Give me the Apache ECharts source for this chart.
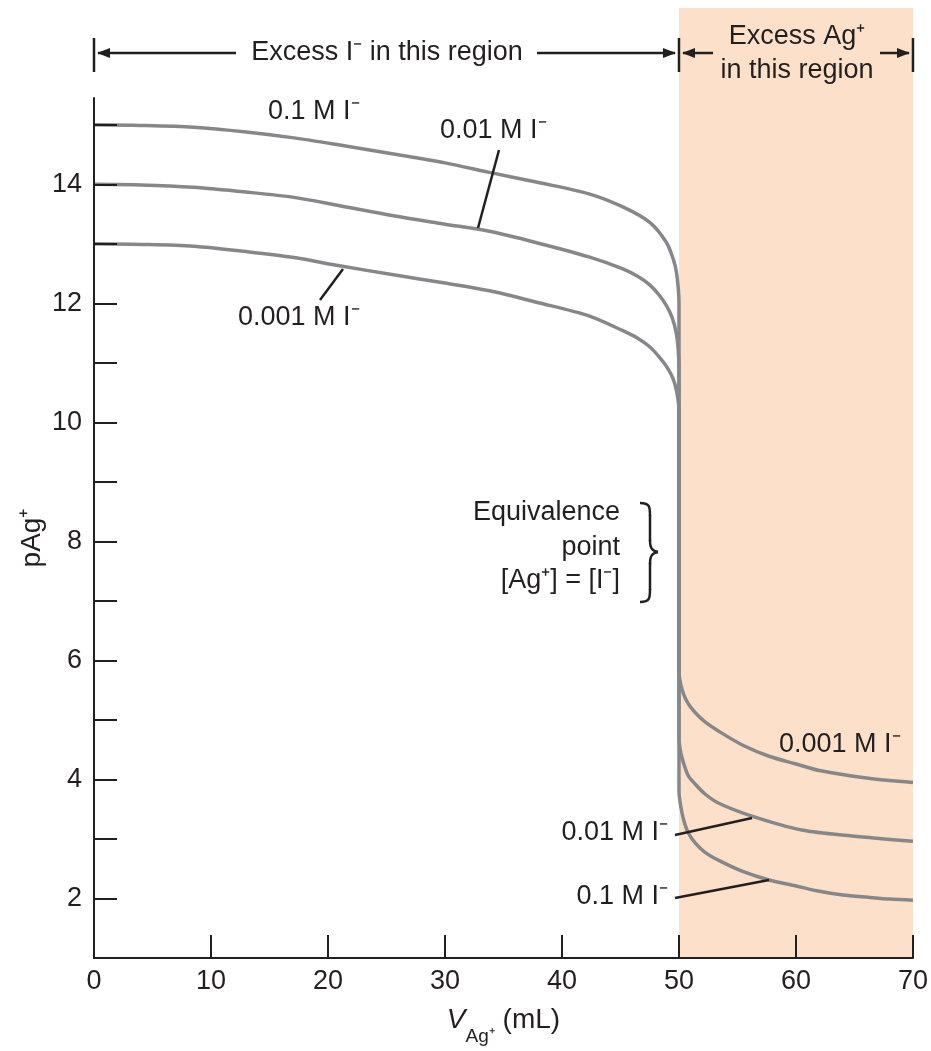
<!DOCTYPE html>
<html lang="en">
<head>
<meta charset="UTF-8">
<title>pAg+ titration curves</title>
<script src="https://cdn.jsdelivr.net/npm/echarts@6.0.0/dist/echarts.min.js"></script>
<style>
  html, body { margin: 0; padding: 0; background: #fff; }
  #chart { width: 931px; height: 1051px; }
</style>
</head>
<body>
<div id="chart"></div>
<script>
// [volume of Ag+ (mL), pAg+]
const curve01 = [
  [0, 15.0], [4, 14.99], [8.5, 14.96], [13, 14.88], [17.1, 14.78], [21, 14.66], [25.6, 14.51],
  [30, 14.36], [33.8, 14.2], [38, 14.03], [42.3, 13.84], [45.2, 13.62], [47.5, 13.36],
  [48.9, 13.03], [49.5, 12.75], [49.8, 12.5], [50, 12.0],
  [50, 3.8], [50.15, 3.55], [50.4, 3.32], [50.8, 3.1], [51.4, 2.93], [52.2, 2.78], [53.4, 2.64],
  [55.5, 2.45], [57.7, 2.31], [60, 2.21], [62, 2.12], [64, 2.06], [66.2, 2.02], [68, 1.99], [70, 1.97]
];
const curve001 = [
  [0, 14.0], [4, 13.99], [8.5, 13.95], [13, 13.87], [17.1, 13.78], [21, 13.64], [25.6, 13.47],
  [30, 13.33], [33.8, 13.21], [38, 13.01], [42.3, 12.78], [45.2, 12.58], [46.5, 12.45],
  [47.5, 12.31], [48.3, 12.14], [48.9, 11.97], [49.4, 11.77], [49.75, 11.52], [49.92, 11.25], [50, 10.9],
  [50, 4.69], [50.15, 4.45], [50.4, 4.27], [50.8, 4.06], [51.4, 3.92], [52.2, 3.76], [53.4, 3.6],
  [56.3, 3.38], [60.5, 3.15], [64.8, 3.05], [70, 2.96]
];
const curve0001 = [
  [0, 13.0], [4, 12.99], [8.5, 12.96], [13, 12.87], [17.1, 12.77], [21, 12.63], [25.6, 12.48],
  [30, 12.34], [33.8, 12.21], [38, 12.01], [42.3, 11.79], [45.2, 11.54], [46.5, 11.41],
  [47.5, 11.27], [48.3, 11.1], [49, 10.92], [49.5, 10.73], [49.8, 10.52], [50, 10.2],
  [50, 5.82], [50.15, 5.6], [50.4, 5.43], [50.8, 5.27], [51.4, 5.12], [52.2, 4.97], [53.4, 4.81],
  [55.5, 4.57], [57.7, 4.39], [60, 4.26], [62, 4.15], [66.2, 4.02], [70, 3.95]
];
const xTicks = [10, 20, 30, 40, 50, 60, 70];
const yTicks = [2, 3, 4, 5, 6, 7, 8, 9, 10, 11, 12, 13, 14, 15];
const yLabels = [2, 4, 6, 8, 10, 12, 14];
const equivalenceVolume = 50;
const endVolume = 70;

const ink = '#231f20';
const curveColor = '#85878a';
const font = "'Liberation Sans', Arial, sans-serif";

const chart = echarts.init(document.getElementById('chart'));

function curveSeries(name, data) {
  return {
    name: name,
    type: 'line',
    data: data,
    showSymbol: false,
    smooth: 0.3,
    lineStyle: { color: curveColor, width: 3.5 },
    z: 2
  };
}

chart.setOption({
  animation: false,
  grid: { left: 94, right: 17, top: 98, bottom: 91 },
  textStyle: { fontFamily: font },
  xAxis: {
    type: 'value', min: 0, max: 70, interval: 10, z: 5,
    axisLine: { lineStyle: { color: ink, width: 2 } },
    axisTick: { inside: true, length: 23, customValues: xTicks, lineStyle: { color: ink, width: 2 } },
    axisLabel: { color: ink, fontSize: 27, margin: 10, fontFamily: font },
    splitLine: { show: false },
    name: '{v|V}{sub|Ag⁺}{n| (mL)}',
    nameLocation: 'middle',
    nameGap: 48,
    nameTextStyle: {
      rich: {
        v: { fontSize: 28, fontStyle: 'italic', color: ink, fontFamily: font, lineHeight: 40, verticalAlign: 'top' },
        sub: { fontSize: 19, color: ink, fontFamily: font, lineHeight: 40, verticalAlign: 'bottom' },
        n: { fontSize: 28, color: ink, fontFamily: font, lineHeight: 40, verticalAlign: 'top' }
      }
    }
  },
  yAxis: {
    type: 'value', min: 1, max: 15.45, z: 5,
    axisLine: { lineStyle: { color: ink, width: 2 } },
    axisTick: { inside: true, length: 23, customValues: yTicks, lineStyle: { color: ink, width: 2 } },
    axisLabel: { color: ink, fontSize: 27, margin: 12, customValues: yLabels, fontFamily: font },
    splitLine: { show: false }
  },
  series: [
    curveSeries('0.1 M I⁻', curve01),
    curveSeries('0.01 M I⁻', curve001),
    curveSeries('0.001 M I⁻', curve0001)
  ]
});

// decorations: shaded excess-Ag+ region, region arrows, labels, leaders, brace
const x0 = chart.convertToPixel({ xAxisIndex: 0 }, 0);
const x50 = chart.convertToPixel({ xAxisIndex: 0 }, equivalenceVolume);
const x70 = chart.convertToPixel({ xAxisIndex: 0 }, endVolume);
const yBottom = chart.convertToPixel({ yAxisIndex: 0 }, 1);
const arrowY = 53;

function label(text, x, y, align) {
  return {
    type: 'text', x: x, y: y, z: 10,
    style: { text: text, fill: ink, font: '27px ' + font, align: align || 'left', verticalAlign: 'middle' }
  };
}
function seg(x1, y1, x2, y2) {
  return { type: 'line', z: 10, shape: { x1: x1, y1: y1, x2: x2, y2: y2 }, style: { stroke: ink, lineWidth: 2.5 } };
}
function curl(x1, y1, cpx1, cpy1, cpx2, cpy2, x2, y2) {
  return {
    type: 'bezierCurve', z: 10,
    shape: { x1: x1, y1: y1, cpx1: cpx1, cpy1: cpy1, cpx2: cpx2, cpy2: cpy2, x2: x2, y2: y2 },
    style: { stroke: ink, lineWidth: 2.5, fill: null }
  };
}
function head(x, y, dir) {
  // dir: -1 points left, 1 points right
  return {
    type: 'polygon', z: 10,
    shape: { points: [[x, y], [x - dir * 13, y - 5], [x - dir * 13, y + 5]] },
    style: { fill: ink }
  };
}

chart.setOption({
  graphic: [
    { type: 'rect', z: -1, shape: { x: x50, y: 8, width: x70 - x50, height: yBottom - 8 }, style: { fill: '#fce0c9' } },
    seg(x0, 38, x0, 72), seg(x50, 38, x50, 72), seg(x70, 38, x70, 72),
    seg(x0 + 4, arrowY, 236, arrowY), head(x0 + 3, arrowY, -1),
    label('Excess I⁻ in this region', 387, arrowY, 'center'),
    seg(537, arrowY, x50 - 4, arrowY), head(x50 - 3, arrowY, 1),
    seg(x50 + 4, arrowY, 713, arrowY), head(x50 + 3, arrowY, -1),
    label('Excess Ag⁺', 797, 37, 'center'),
    label('in this region', 797, 71, 'center'),
    seg(880, arrowY, x70 - 4, arrowY), head(x70 - 3, arrowY, 1),

    {
      type: 'text', x: 32, y: 538, z: 10, rotation: Math.PI / 2,
      style: { text: 'pAg⁺', fill: ink, font: '28px ' + font, align: 'center', verticalAlign: 'middle' }
    },

    label('0.1 M I⁻', 268, 112),
    label('0.01 M I⁻', 440, 131),
    seg(499, 150, 478, 228),
    label('0.001 M I⁻', 238, 318),
    seg(343, 269, 320, 300),

    label('0.001 M I⁻', 779, 745),
    label('0.01 M I⁻', 668, 833, 'right'),
    seg(675, 835, 752, 818),
    label('0.1 M I⁻', 668, 897, 'right'),
    seg(675, 898, 769, 880),

    label('Equivalence', 620, 513, 'right'),
    label('point', 620, 548, 'right'),
    label('[Ag⁺] = [I⁻]', 620, 581, 'right'),
    curl(640, 503, 650, 503, 650, 507, 650, 516),
    seg(650, 515, 650, 541),
    curl(650, 540, 650, 548, 652, 551, 658, 552),
    curl(658, 552, 652, 553, 650, 556, 650, 564),
    seg(650, 563, 650, 590),
    curl(650, 589, 650, 598, 650, 602, 640, 602)
  ]
});
</script>
</body>
</html>
